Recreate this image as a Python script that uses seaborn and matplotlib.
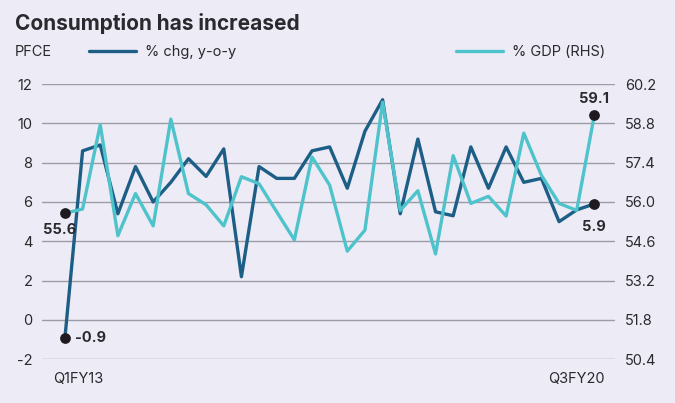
import pandas as pd
import matplotlib.pyplot as plt
import seaborn as sns

# PFCE, quarterly, Q1FY13 .. Q3FY20
quarters = [f"Q{q}FY{y}" for y in range(13, 21) for q in range(1, 5)][:31]
pfce_yoy = [-0.9, 8.6, 8.9, 5.4, 7.8, 6.0, 7.0, 8.2, 7.3, 8.7,
            2.2, 7.8, 7.2, 7.2, 8.6, 8.8, 6.7, 9.6, 11.2, 5.4,
            9.2, 5.5, 5.3, 8.8, 6.7, 8.8, 7.0, 7.2, 5.0, 5.6, 5.9]
pfce_gdp = [55.6, 55.75, 58.75, 54.8, 56.3, 55.15, 58.95, 56.3, 55.9, 55.15,
            56.9, 56.65, 55.65, 54.65, 57.6, 56.6, 54.25, 55.0, 59.55, 55.7,
            56.4, 54.15, 57.65, 55.95, 56.2, 55.5, 58.45, 56.95, 55.95, 55.7, 59.1]
left_ticks = [-2, 0, 2, 4, 6, 8, 10, 12]
right_ticks = [50.4, 51.8, 53.2, 54.6, 56.0, 57.4, 58.8, 60.2]

df = pd.DataFrame({"quarter": quarters, "yoy": pfce_yoy, "gdp": pfce_gdp})
df["i"] = range(len(df))

bg = "#EDEBF5"
dark = "#1C5E85"
light = "#4EC3CB"
txt = "#2A2A2E"

sns.set_theme(style="white")
plt.rcParams["font.family"] = ["Inter", "DejaVu Sans"]

fig = plt.figure(figsize=(6.75, 4.03), dpi=100, facecolor=bg)
ax = fig.add_axes([42 / 675, 1 - 359.3 / 403, (615 - 42) / 675, (359.3 - 84) / 403])
ax.set_facecolor(bg)
ax2 = ax.twinx()

sns.lineplot(data=df, x="i", y="yoy", ax=ax, color=dark, lw=2.4, zorder=3, label="% chg, y-o-y", legend=False)
sns.lineplot(data=df, x="i", y="gdp", ax=ax2, color=light, lw=2.4, zorder=2, label="% GDP (RHS)", legend=False)

ax.set_xlim(-1.3, 31.17)
ax.set_ylim(left_ticks[0], left_ticks[-1])
ax2.set_ylim(right_ticks[0], right_ticks[-1])
ax.set_yticks(left_ticks)
ax.set_yticklabels([str(t) for t in left_ticks])
ax2.set_yticks(right_ticks)
ax2.set_yticklabels([f"{t:.1f}" for t in right_ticks])
ax.set_xticks([])
ax.set_xlabel("")
ax.set_ylabel("")
ax2.set_ylabel("")
for a in (ax, ax2):
    for s in a.spines.values():
        s.set_visible(False)
    a.tick_params(length=0, labelsize=10.5, colors=txt, pad=7)
ax.grid(axis="y", color="#9C9CA6", lw=1)
ax.set_axisbelow(True)

# x labels
ax.text(-0.68, -3.0, quarters[0], ha="left", va="center", fontsize=10.5, color=txt)
ax.text(30.6, -3.0, quarters[-1], ha="right", va="center", fontsize=10.5, color=txt)

# end point markers and labels
ax.scatter([0, 30], [pfce_yoy[0], pfce_yoy[-1]], s=45, color="#1E1A20", zorder=5)
ax2.scatter([0, 30], [pfce_gdp[0], pfce_gdp[-1]], s=45, color="#1E1A20", zorder=5)
ax.text(0.55, pfce_yoy[0], f"{pfce_yoy[0]:.1f}", ha="left", va="center", fontsize=10.5, fontweight="bold", color=txt)
ax.text(30, pfce_yoy[-1] - 1.15, f"{pfce_yoy[-1]:.1f}", ha="center", va="center", fontsize=10.5, fontweight="bold", color=txt)
ax2.text(-0.3, pfce_gdp[0] - 0.6, f"{pfce_gdp[0]:.1f}", ha="center", va="center", fontsize=10.5, fontweight="bold", color=txt)
ax2.text(30, pfce_gdp[-1] + 0.55, f"{pfce_gdp[-1]:.1f}", ha="center", va="center", fontsize=10.5, fontweight="bold", color=txt)

# title and legend
fig.text(15 / 675, 1 - 24 / 403, "Consumption has increased", fontsize=15, fontweight="bold", color=txt, va="center")
fig.text(15 / 675, 1 - 52 / 403, "PFCE", fontsize=10.5, color=txt, va="center")
h1, l1 = ax.get_legend_handles_labels()
h2, l2 = ax2.get_legend_handles_labels()
for h, l, x0 in ((h1, l1, 76), (h2, l2, 443)):
    fig.legend(h, l, loc="center left", bbox_to_anchor=(x0 / 675, 1 - 52 / 403), frameon=False,
               fontsize=10.5, handlelength=3.2, handletextpad=0.6, labelcolor=txt)

fig.savefig("out.png", dpi=100, facecolor=bg)
